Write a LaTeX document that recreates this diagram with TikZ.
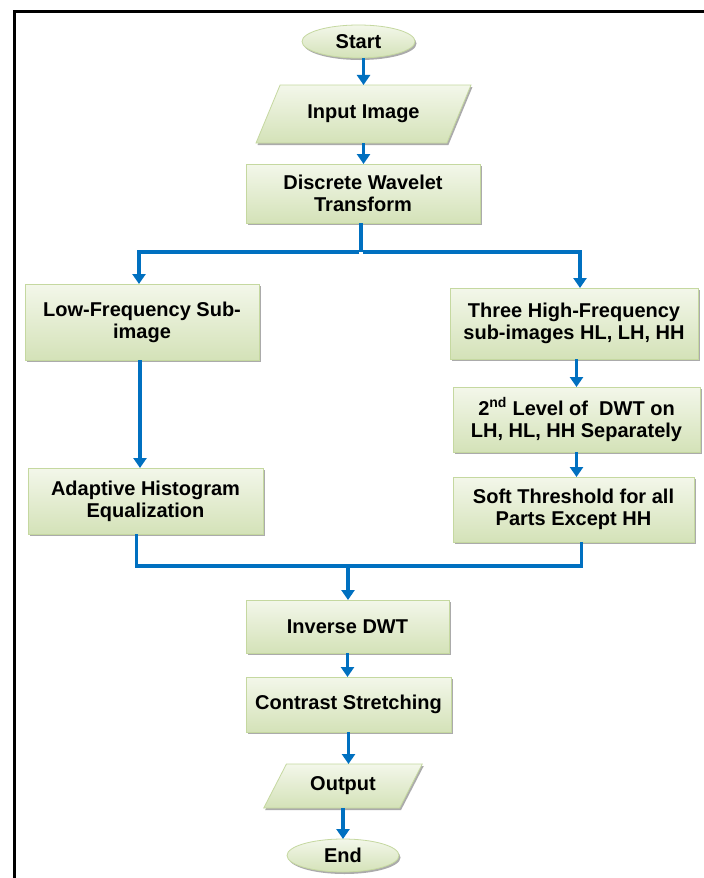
\documentclass[tikz,border=0pt]{standalone}
\usepackage{fontspec}
\setmainfont{Liberation Sans}
\usetikzlibrary{shapes.geometric,arrows.meta,shadows}
\definecolor{flow}{HTML}{0070C0}
\definecolor{boxtop}{HTML}{F3F7EA}
\definecolor{boxbot}{HTML}{D4E2B8}
\definecolor{boxline}{HTML}{C5D8A0}
\tikzset{
  basebox/.style={draw=boxline, line width=0.8pt, top color=boxtop, bottom color=boxbot,
    drop shadow={shadow xshift=1.5pt, shadow yshift=-2pt, fill=black!55, opacity=0.6},
    align=center, inner sep=0pt, outer sep=0pt,
    font=\fontsize{20}{22}\selectfont\bfseries},
  procbox/.style={basebox, rectangle},
  termbox/.style={basebox, ellipse},
  iobox/.style={basebox, trapezium, trapezium stretches=true},
  flowline/.style={draw=flow, line width=3.5pt},
  flowarrow/.style={flowline, -{Triangle[length=10pt,width=13pt]}},
}
\begin{document}
\begin{tikzpicture}[x=1pt,y=-1pt]
\useasboundingbox (0,0) rectangle (704,878);
\fill[white] (0,0) rectangle (704,878);
\draw[line width=3.5pt] (14.5,878) -- (14.5,11.5) -- (704,11.5);

\node[termbox, minimum width=113pt, minimum height=33pt] (start) at (358.5,41.5) {Start};
\node[iobox, trapezium left angle=48, trapezium right angle=132, minimum width=215pt, minimum height=58pt] (input) at (363.5,114) {Input Image};
\node[procbox, minimum width=234pt, minimum height=59pt] (dwt) at (363,193.5) {Discrete Wavelet\\Transform};
\node[procbox, minimum width=234pt, minimum height=76pt] (low) at (142,322) {Low-Frequency Sub-\\image};
\node[procbox, minimum width=248pt, minimum height=71pt] (high) at (574,323.5) {Three High-Frequency\\sub-images HL, LH, HH};
\node[procbox, minimum width=247pt, minimum height=65pt] (lvl) at (576.5,419.5) {2\textsuperscript{nd} Level of~ DWT on\\LH, HL, HH Separately};
\node[procbox, minimum width=241pt, minimum height=65pt] (soft) at (573.5,509.5) {Soft Threshold for all\\Parts Except HH};
\node[procbox, minimum width=235pt, minimum height=66pt] (adapt) at (145.5,501) {Adaptive Histogram\\Equalization};
\node[procbox, minimum width=203pt, minimum height=53pt] (inv) at (347.5,626.5) {Inverse DWT};
\node[procbox, minimum width=205pt, minimum height=55pt] (contr) at (348.5,704.5) {Contrast Stretching};
\node[iobox, trapezium left angle=54, trapezium right angle=126, minimum width=160pt, minimum height=44pt] (out) at (343,786) {Output};
\node[termbox, minimum width=112pt, minimum height=33pt] (end) at (343,855.5) {End};

\draw[flowarrow] (input.north |- start.south) -- (input.north);
\draw[flowarrow] (input.south) -- (input.south |- dwt.north);

\coordinate (b) at (361,252);
\draw[flowline] (b |- dwt.south) -- (b);
\draw[flowarrow] ([xshift=-1.75pt]b) -| ([xshift=-3pt]low.north);
\draw[flowarrow] ([xshift=1.75pt]b) -| ([xshift=6pt]high.north);

\draw[flowarrow] ([xshift=-2pt]low.south) -- ([xshift=-2pt]low.south |- adapt.north);
\draw[flowarrow] (high.south -| lvl.north) -- (lvl.north);
\draw[flowarrow] (lvl.south) -- (lvl.south |- soft.north);

\coordinate (m) at (348,566);
\draw[flowline] ([xshift=-9pt]adapt.south) |- ([xshift=1.75pt]m);
\draw[flowline] ([xshift=8pt]soft.south) |- ([xshift=-1.75pt]m);
\draw[flowarrow] (m) -- (m |- inv.north);

\draw[flowarrow] (inv.south) -- (inv.south |- contr.north);
\draw[flowarrow] (contr.south) -- (contr.south |- out.north);
\draw[flowarrow] (out.south) -- (out.south |- end.north);
\end{tikzpicture}
\end{document}
